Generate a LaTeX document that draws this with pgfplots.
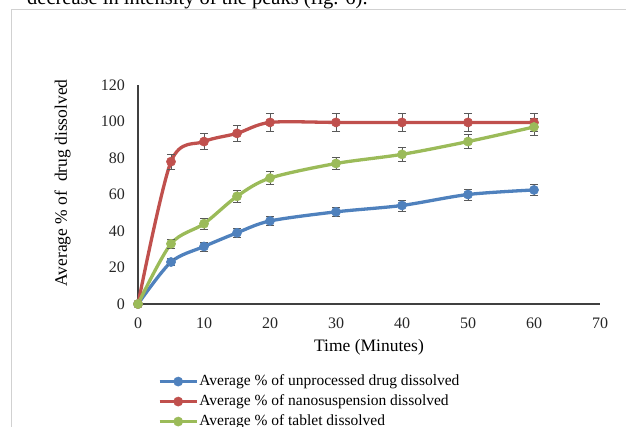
\documentclass[border=0pt]{standalone}
\usepackage{pgfplots}
\pgfplotsset{compat=1.18}
\usepackage{fontspec}
\setmainfont{Liberation Serif}
\definecolor{xblue}{HTML}{4F81BD}
\definecolor{xred}{HTML}{C0504D}
\definecolor{xgreen}{HTML}{9BBB59}
\definecolor{axgray}{HTML}{404040}
\definecolor{errgray}{HTML}{595959}
\begin{document}
\begin{tikzpicture}
\clip (0pt,0pt) rectangle (626pt,426pt);
\draw[black!18, line width=1pt] (11pt,-5pt) -- (11pt,416pt) -- (640pt,416pt);
\node[anchor=base west, inner sep=0pt] at (27pt,421pt) {\fontsize{20.5}{24}\selectfont decrease in intensity of the peaks (fig. 6).};
\begin{axis}[
  at={(138pt,122pt)}, anchor=south west,
  scale only axis, width=462pt, height=219pt,
  xmin=0, xmax=70, ymin=0, ymax=120,
  xtick={0,10,...,70}, ytick={0,20,...,120},
  axis x line=bottom, axis y line=left,
  axis line style={-, axgray, line width=1.1pt},
  major tick length=0pt,
  clip=false,
  /pgf/number format/assume math mode=true,
  tick label style={font=\fontsize{16}{18}\selectfont, inner sep=0pt, color=black!85},
  yticklabel style={anchor=east, xshift=-13pt},
  xticklabel style={anchor=north, yshift=-14pt},
  xlabel={Time (Minutes)},
  ylabel={Average \% of\ \ drug dissolved},
  xlabel style={font=\fontsize{17.5}{20}\selectfont, at={(axis description cs:0.5,-0.196)}, anchor=center},
  ylabel style={font=\fontsize{17.5}{20}\selectfont, at={(axis description cs:-0.163,0.553)}, anchor=center},
  legend style={at={(axis description cs:0.043,-0.319)}, anchor=north west, draw=none, fill=none,
    font=\fontsize{15.5}{18}\selectfont, row sep=5pt, inner sep=0pt,
    nodes={inner ysep=0pt, inner xsep=1pt, text height=11pt, text depth=4pt}},
  legend cell align=left,
  legend image code/.code={\draw[#1, mark repeat=2, mark phase=2] plot coordinates {(0pt,0pt) (18.5pt,0pt) (37pt,0pt)};},
  every axis plot/.append style={line width=3.3pt, smooth, tension=0.5, mark=*, mark size=4.6pt,
    error bars/y dir=both, error bars/y explicit,
    error bars/error bar style={errgray, line width=0.8pt},
    error bars/error mark options={rotate=90, errgray, mark size=4pt, line width=0.8pt}},
]
\addplot[color=xblue, mark options={fill=xblue, draw=xblue, line width=0.5pt}] coordinates {
 (0,0) +- (0,0)
 (5,23) +- (0,2)
 (10,31.5) +- (0,2.5)
 (15,39) +- (0,2.5)
 (20,45.5) +- (0,2.5)
 (30,50.5) +- (0,2.5)
 (40,54) +- (0,3)
 (50,60) +- (0,3)
 (60,62.5) +- (0,3.2)
};
\addlegendentry{Average \% of unprocessed drug dissolved}
\addplot[color=xred, mark options={fill=xred, draw=xred, line width=0.5pt}] coordinates {
 (0,0) +- (0,0)
 (5,78) +- (0,4)
 (10,89) +- (0,4.5)
 (15,93.5) +- (0,4.5)
 (20,99.5) +- (0,5)
 (30,99.5) +- (0,5)
 (40,99.5) +- (0,5)
 (50,99.5) +- (0,5)
 (60,99.5) +- (0,5)
};
\addlegendentry{Average \% of nanosuspension dissolved}
\addplot[color=xgreen, mark options={fill=xgreen, draw=xgreen, line width=0.5pt}] coordinates {
 (0,0) +- (0,0)
 (5,33) +- (0,2.5)
 (10,44) +- (0,3)
 (15,59) +- (0,3.5)
 (20,69) +- (0,3.5)
 (30,77) +- (0,3.5)
 (40,82) +- (0,4)
 (50,89) +- (0,4)
 (60,97) +- (0,4.5)
};
\addlegendentry{Average \% of tablet dissolved}
\end{axis}
\end{tikzpicture}
\end{document}
